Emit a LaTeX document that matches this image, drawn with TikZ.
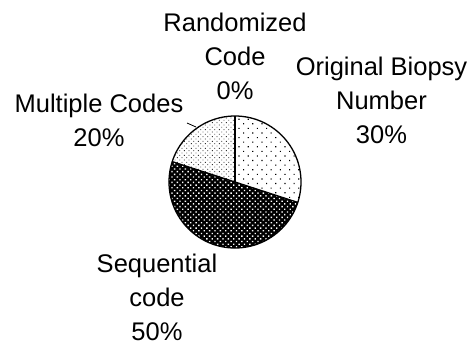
\documentclass[tikz,border=0pt]{standalone}
\usepackage{fontspec}
\setmainfont{Liberation Sans}
\usetikzlibrary{patterns.meta}
\tikzset{
    pielabel/.style = {align=center, anchor=base, inner sep=0pt,
                       font=\fontsize{25.5bp}{34bp}\selectfont},
    slice/.style = {draw=black, line width=1.3bp, line join=round},
    sparsedots/.style = {pattern={Dots[radius=0.8bp, distance=6.5bp, angle=45]}},
    densedots/.style = {pattern={Dots[radius=0.6bp, distance=3.3bp, angle=45]},
                        pattern color=black!80},
    whitedots/.style = {pattern={Dots[radius=0.95bp, distance=3.8bp, angle=45]},
                        pattern color=white},
}

\begin{document}
\begin{tikzpicture}[x=1bp, y=1bp]
    \useasboundingbox (0,0) rectangle (474,349);
    \coordinate (pie) at (235,167);

    % slices
    \path[fill=white, sparsedots] (pie) -- ++(90:66) arc[start angle=90, end angle=-18, radius=66] -- cycle;
    \path[fill=black] (pie) -- ++(-18:66) arc[start angle=-18, end angle=-198, radius=66] -- cycle;
    \path[whitedots] (pie) -- ++(-18:66) arc[start angle=-18, end angle=-198, radius=66] -- cycle;
    \path[fill=white, densedots] (pie) -- ++(162:66) arc[start angle=162, end angle=90, radius=66] -- cycle;
    \draw[slice] (pie) -- ++(90:66);
    \draw[slice] (pie) -- ++(-18:66);
    \draw[slice] (pie) -- ++(162:66);
    \draw[slice] (pie) circle[radius=66];

    % labels (anchored at the baseline of the last line)
    \node (rand) [pielabel] at (235,250) {Randomized\\Code\\0\%};
    \node (orig) [pielabel] at (381.5,206) {Original Biopsy\\Number\\30\%};
    \node (mult) [pielabel] at (99,203) {Multiple Codes\\20\%};
    \node (seq) [pielabel] at (157,9) {Sequential\\code\\50\%};

    \coordinate (multtip) at (187,226);
    \coordinate (multend) at (196,222);
    \draw[line width=0.8bp] (multtip) -- (multend);
\end{tikzpicture}
\end{document}
